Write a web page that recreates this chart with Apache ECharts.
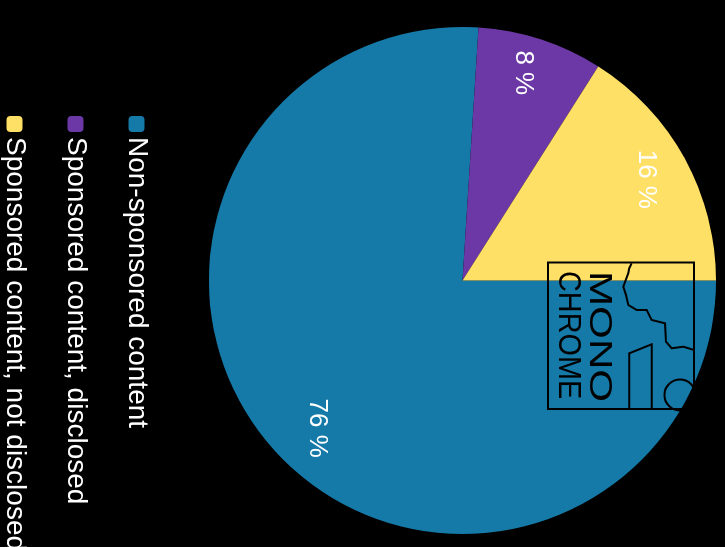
<!DOCTYPE html>
<html>
<head>
<meta charset="utf-8">
<script src="https://cdn.jsdelivr.net/npm/echarts@6/dist/echarts.min.js"></script>
<style>
html,body{margin:0;padding:0;background:#000;width:725px;height:547px;overflow:hidden;}
#wrap{position:absolute;left:0;top:0;width:547px;height:725px;transform-origin:0 0;transform:translate(725px,0) rotate(90deg);}
</style>
</head>
<body>
<div id="wrap"></div>
<script>
const categories = ['Non-sponsored content', 'Sponsored content, disclosed', 'Sponsored content, not disclosed'];
const values = [76, 8, 16];
const colors = ['#157aa8', '#6c38a5', '#ffe066'];

const FONT = '"Liberation Sans", Arial, Helvetica, sans-serif';
const chart = echarts.init(document.getElementById('wrap'), null, {renderer: 'canvas', width: 547, height: 725});

const labelOffsets = [[4, -8], [-8, 4], [0, 0]];
const pieData = categories.map((n, i) => ({name: n, value: values[i], itemStyle: {color: colors[i]}}));
const labelData = categories.map((n, i) => ({name: n, value: values[i], label: {offset: labelOffsets[i]}}));

chart.setOption({
  backgroundColor: '#000',
  animation: false,
  legend: {
    orient: 'vertical',
    left: 116,
    top: 574.5,
    height: 300,
    padding: 0,
    itemWidth: 16,
    itemHeight: 16,
    itemGap: 33,
    icon: 'roundRect',
    selectedMode: false,
    data: categories.map((n, i) => ({name: n, itemStyle: {color: colors[i]}})),
    textStyle: {color: '#fff', fontSize: 28, lineHeight: 28, fontFamily: FONT}
  },
  series: [
    {
      type: 'pie',
      center: [280.5, 262.5],
      radius: [0, 253.5],
      startAngle: 90,
      clockwise: true,
      silent: true,
      label: {show: false},
      labelLine: {show: false},
      itemStyle: {borderWidth: 0},
      emphasis: {disabled: true},
      data: pieData
    },
    {
      type: 'pie',
      center: [280.5, 262.5],
      radius: [160.5, 253.5],
      startAngle: 90,
      clockwise: true,
      silent: true,
      avoidLabelOverlap: false,
      itemStyle: {color: 'rgba(0,0,0,0)', borderWidth: 0},
      label: {show: true, position: 'inside', formatter: '{c} %', color: '#fff', fontSize: 26, fontFamily: FONT},
      labelLine: {show: false},
      emphasis: {disabled: true},
      data: labelData
    }
  ],
  graphic: [
    {type: 'rect', z: 100, silent: true, shape: {x: 262.5, y: 31, width: 146.5, height: 146}, style: {fill: null, stroke: '#000', lineWidth: 2}},
    {type: 'text', z: 100, silent: true, x: 271, y: 142, scaleX: 1.36, style: {text: 'MONO', font: 'normal 31px ' + FONT, fill: '#000', textVerticalAlign: 'bottom'}},
    {type: 'text', z: 100, silent: true, x: 271, y: 173, scaleX: 0.93, style: {text: 'CHROME', font: 'normal 31px ' + FONT, fill: '#000', textVerticalAlign: 'bottom'}},
    {type: 'polyline', z: 100, silent: true, shape: {points: [[263.3, 93.3], [268.3, 95.7], [273.3, 96.7], [286.7, 101.7], [295, 99], [305, 96.7], [310, 88.3], [310, 78.3], [320, 73.3], [323.3, 60], [341.7, 59], [348.3, 53.3], [346.7, 41.7], [350, 31]]}, style: {stroke: '#000', lineWidth: 2, fill: null}},
    {type: 'polyline', z: 100, silent: true, shape: {points: [[408.5, 95.7], [353.3, 95.7], [344.3, 73.3], [408.5, 73.3]]}, style: {stroke: '#000', lineWidth: 2, fill: null}},
    {type: 'arc', z: 100, silent: true, shape: {cx: 395, cy: 45, r: 15.5, startAngle: 0, endAngle: Math.PI * 2}, style: {stroke: '#000', lineWidth: 2, fill: null}}
  ]
});
</script>
</body>
</html>
